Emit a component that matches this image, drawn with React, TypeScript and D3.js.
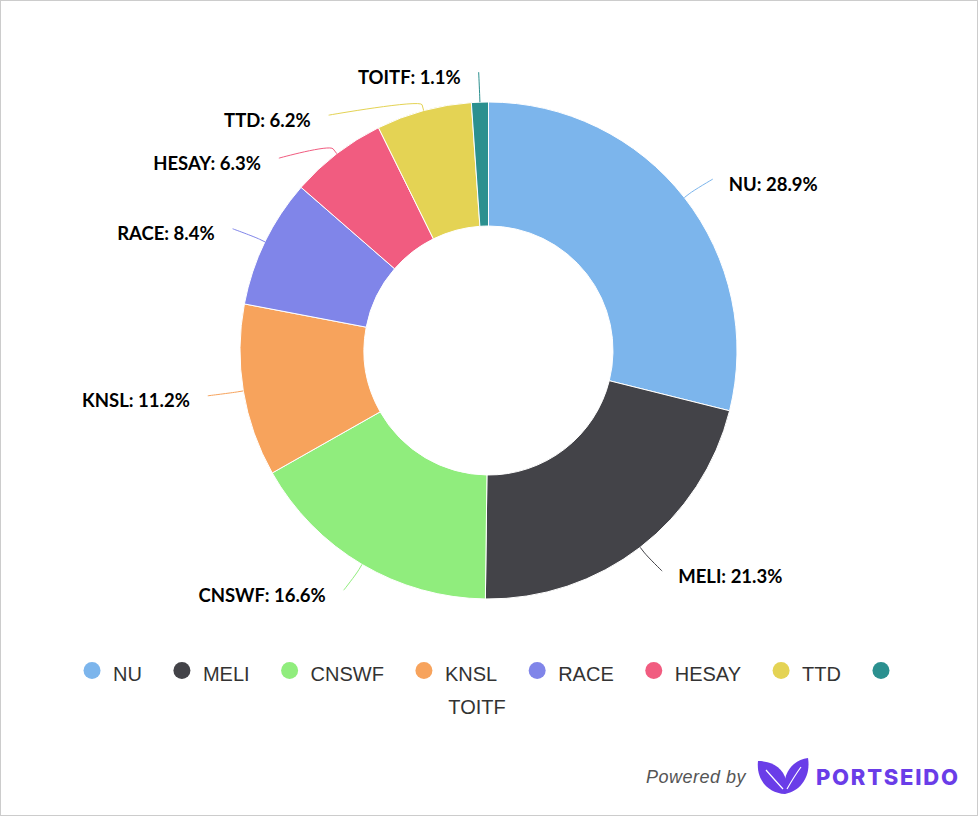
import * as d3 from "d3";
import { useEffect, useRef } from "react";

// portfolio weights, in percent
const tickers = ["NU", "MELI", "CNSWF", "KNSL", "RACE", "HESAY", "TTD", "TOITF"];
const weights = [28.9, 21.3, 16.6, 11.2, 8.4, 6.3, 6.2, 1.1];
const colors = [
  "#7cb5ec",
  "#434348",
  "#90ed7d",
  "#f7a35c",
  "#8085e9",
  "#f15c80",
  "#e4d354",
  "#2b908f",
];

const width = 978;
const height = 816;

type Slice = { name: string; value: number; color: string };

const App: React.FC = () => {
  const svgRef = useRef<SVGSVGElement | null>(null);

  useEffect(() => {
    const data: Slice[] = tickers.map((t, i) => ({
      name: t,
      value: weights[i],
      color: colors[i],
    }));

    const svg = d3.select(svgRef.current);
    svg.selectAll("*").remove();

    // frame
    svg
      .append("rect")
      .attr("x", 0.5)
      .attr("y", 0.5)
      .attr("width", width - 1)
      .attr("height", height - 1)
      .attr("fill", "#fff")
      .attr("stroke", "#cccccc");

    const cx = 488.5;
    const cy = 350.5;
    const outerR = 248.5;
    const innerR = 124.5;

    const pie = d3
      .pie<Slice>()
      .sort(null)
      .value((d) => d.value);
    const arcs = pie(data);

    const arc = d3
      .arc<d3.PieArcDatum<Slice>>()
      .innerRadius(innerR)
      .outerRadius(outerR);

    const g = svg.append("g").attr("transform", `translate(${cx},${cy})`);

    g.selectAll("path.slice")
      .data(arcs)
      .enter()
      .append("path")
      .attr("class", "slice")
      .attr("d", arc)
      .attr("fill", (d) => d.data.color)
      .attr("stroke", "#fff")
      .attr("stroke-width", 1);

    // data labels, pushed apart on each side like highcharts does
    const labelR = outerR + 30;
    const connR = outerR + 36;
    const minGap = 43;

    const labels = arcs.map((a) => {
      const m = (a.startAngle + a.endAngle) / 2;
      return {
        a,
        m,
        left: Math.sin(m) < 0,
        y0: -labelR * Math.cos(m),
        y: 0,
        x: 0,
      };
    });

    [true, false].forEach((left) => {
      const side = labels
        .filter((d) => d.left === left)
        .sort((p, q) => p.y0 - q.y0);
      let prev = -Infinity;
      side.forEach((d) => {
        d.y = Math.max(d.y0, prev + minGap);
        prev = d.y;
      });
    });

    labels.forEach((d) => {
      const s = d.left ? -1 : 1;
      d.x =
        d.y === d.y0
          ? connR * Math.sin(d.m)
          : s * Math.sqrt(Math.max(0, connR * connR - d.y * d.y));
    });

    const pt = (r: number, m: number) => [r * Math.sin(m), -r * Math.cos(m)];

    g.selectAll("path.connector")
      .data(labels)
      .enter()
      .append("path")
      .attr("class", "connector")
      .attr("fill", "none")
      .attr("stroke", (d) => d.a.data.color)
      .attr("stroke-width", 1)
      .attr("d", (d) => {
        const touch = pt(outerR, d.m);
        const brk = pt(outerR + 6, d.m);
        const ctrl = pt(outerR + 12, d.m);
        return `M${d.x},${d.y}C${d.x},${d.y} ${ctrl[0]},${ctrl[1]} ${brk[0]},${brk[1]}L${touch[0]},${touch[1]}`;
      });

    g.selectAll("text.label")
      .data(labels)
      .enter()
      .append("text")
      .attr("class", "label")
      .attr("x", (d) => (d.left ? d.x - 18 : d.x + 16))
      .attr("y", (d) => d.y + 5)
      .attr("dy", "0.35em")
      .attr("text-anchor", (d) => (d.left ? "end" : "start"))
      .attr("font-family", "Lato, sans-serif")
      .attr("font-weight", 700)
      .attr("font-size", 18.5)
      .attr("fill", "#000")
      .text((d) => `${d.a.data.name}: ${d.a.data.value.toFixed(1)}%`);

    // legend
    const legend = svg.append("g");
    const legendY = 670.5;
    const items = legend
      .selectAll("g.item")
      .data(data)
      .enter()
      .append("g")
      .attr("class", "item");

    items
      .append("circle")
      .attr("r", 8.5)
      .attr("cy", legendY)
      .attr("fill", (d) => d.color);

    const texts = items
      .append("text")
      .attr("font-family", "'Liberation Sans', Arial, sans-serif")
      .attr("font-size", 20)
      .attr("fill", "#333")
      .attr("dy", "0.35em")
      .text((d) => d.name);

    const widths: number[] = [];
    texts.each(function () {
      widths.push((this as SVGTextElement).getComputedTextLength());
    });

    // circle centre -> text: 21, text end -> next circle centre: 40
    let cursor = 0;
    const xs: number[] = [];
    data.forEach((_, i) => {
      xs.push(cursor);
      if (i < data.length - 1) cursor += 21 + widths[i] + 40;
    });
    const offset = 486.5 - cursor / 2;

    items.select("circle").attr("cx", (_, i) => offset + xs[i]);

    texts
      .attr("x", (_, i) =>
        i < data.length - 1 ? offset + xs[i] + 21 : width / 2 - 12
      )
      .attr("y", (_, i) => (i < data.length - 1 ? legendY + 3.5 : legendY + 36))
      .attr("text-anchor", (_, i) => (i < data.length - 1 ? "start" : "middle"));

    // credits
    svg
      .append("text")
      .attr("x", 746)
      .attr("y", 783)
      .attr("text-anchor", "end")
      .attr("font-family", "'Liberation Sans', Arial, sans-serif")
      .attr("font-style", "italic")
      .attr("font-size", 18)
      .attr("letter-spacing", 0.5)
      .attr("fill", "#555")
      .text("Powered by");

    const logo = svg.append("g").attr("fill", "#6a3de8");
    logo
      .append("path")
      .attr("d", "M785,794C768,793 756,780 758,761C776,761 791,773 785,794Z");
    logo
      .append("path")
      .attr("d", "M785,794C781,775 792,760 808,758C811,776 801,791 785,794Z");
    logo
      .append("path")
      .attr("d", "M783,789Q773,778 766,770")
      .attr("fill", "none")
      .attr("stroke", "#fff")
      .attr("stroke-width", 1.2);
    logo
      .append("path")
      .attr("d", "M787,789Q795,775 801,767")
      .attr("fill", "none")
      .attr("stroke", "#fff")
      .attr("stroke-width", 1.2);
    logo
      .append("text")
      .attr("x", 816)
      .attr("y", 785)
      .attr("font-family", "Inter, sans-serif")
      .attr("font-weight", 800)
      .attr("font-size", 22)
      .attr("textLength", 142)
      .attr("lengthAdjust", "spacing")
      .text("PORTSEIDO");
  }, []);

  return (
    <div style={{ position: "absolute", left: 0, top: 0 }}>
      <svg ref={svgRef} width={width} height={height} />
    </div>
  );
};

export default App;
